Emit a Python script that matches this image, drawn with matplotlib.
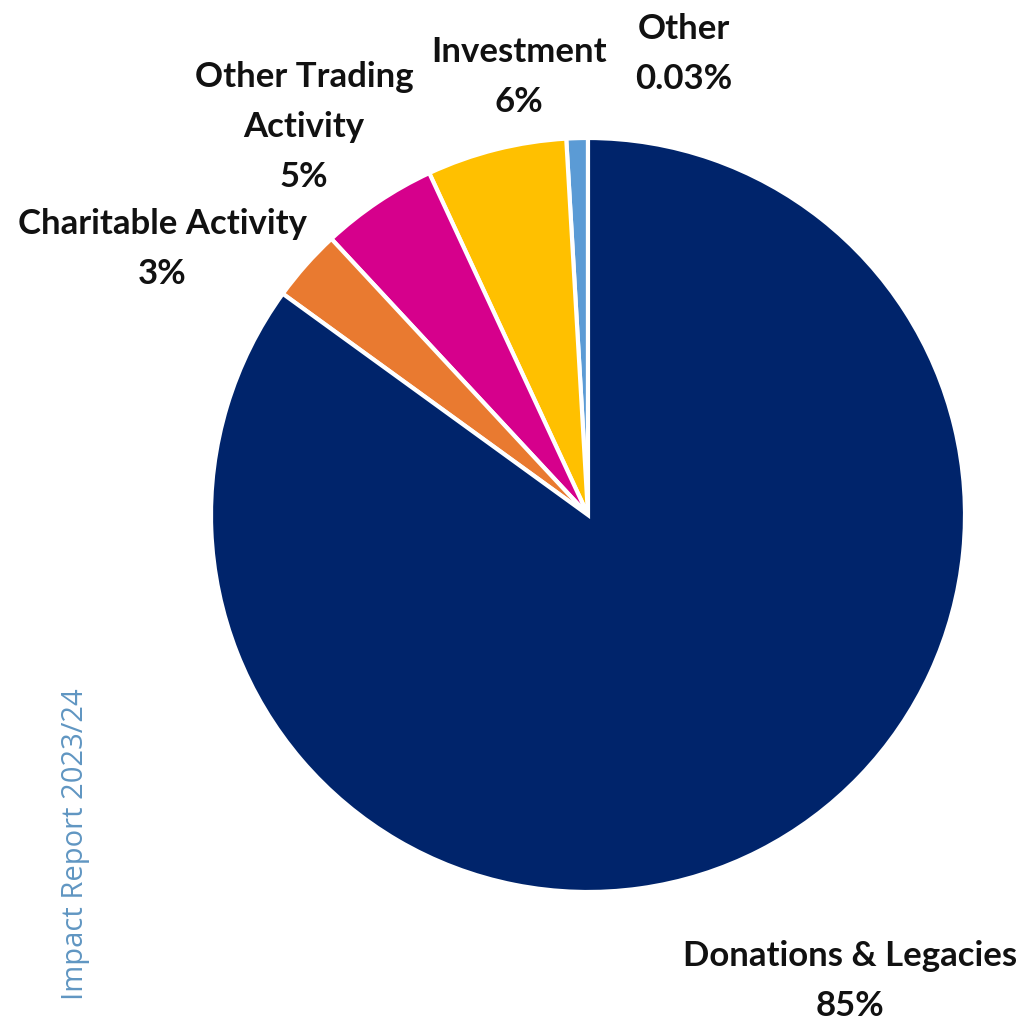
import matplotlib
matplotlib.use("Agg")
import matplotlib.pyplot as plt

categories = ["Other", "Investment", "Other Trading\nActivity", "Charitable Activity", "Donations & Legacies"]
values = [0.92, 6.0, 5.0, 3.1, 85.0]
pct_labels = ["0.03%", "6%", "5%", "3%", "85%"]
colors = ["#5B9BD5", "#FFC000", "#D6008C", "#E97A30", "#00246B"]

W, H = 1022, 1021
fig = plt.figure(figsize=(W / 100, H / 100), dpi=100)
ax = fig.add_axes([0, 0, 1, 1])
cx, cy, r = 588, H - 515, 377
ax.pie(values, colors=colors, startangle=90, counterclock=True, center=(cx, cy), radius=r,
       wedgeprops=dict(edgecolor="white", linewidth=3))
ax.set_xlim(0, W)
ax.set_ylim(0, H)
ax.set_aspect("equal")
ax.axis("off")

label_pos = [(684, 54), (519, 77), (304, 127), (162, 249), (850, 981)]
for cat, pct, (x, y) in zip(categories, pct_labels, label_pos):
    ax.text(x, H - y, f"{cat}\n{pct}", ha="center", va="center", fontsize=25,
            fontweight="bold", family="Lato", linespacing=1.68, color="#111111")

ax.text(76, H - 844, "Impact Report 2023/24", rotation=90, ha="center", va="center",
        fontsize=21, family="Open Sans", color="#6096C2")

fig.savefig("out.png", dpi=100)
